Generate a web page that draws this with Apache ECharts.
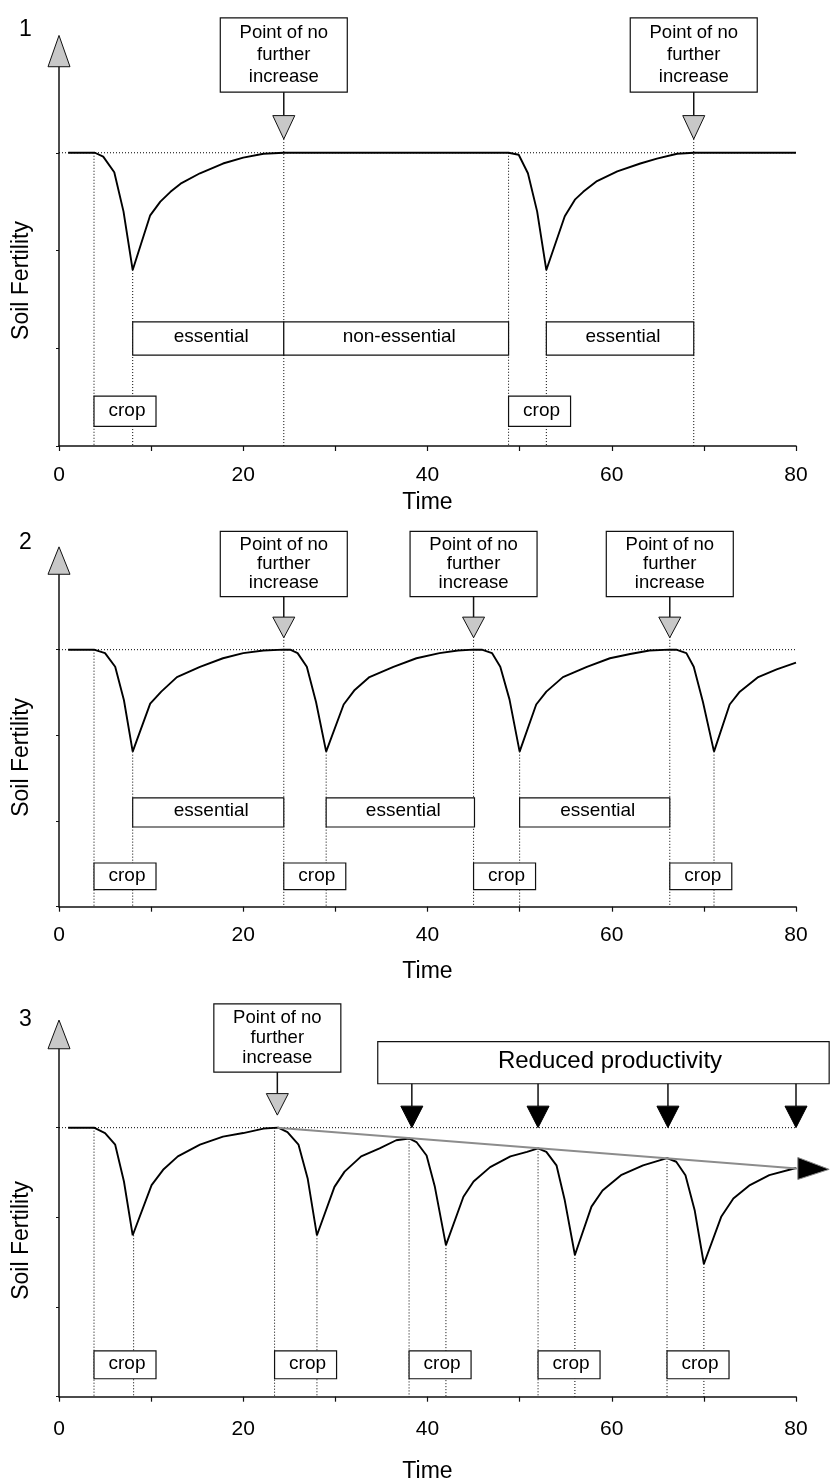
<!DOCTYPE html>
<html>
<head>
<meta charset="utf-8">
<script src="https://cdn.jsdelivr.net/npm/echarts@6/dist/echarts.min.js"></script>
<style>
  html, body { margin: 0; padding: 0; background: #fff; }
  #main { width: 833px; height: 1478px; }
</style>
</head>
<body>
<div id="main"></div>
<script>
// ---- data (time units on x, soil fertility on y) ----
var xLabels = [0, 20, 40, 60, 80];
var plateau = 3;

// panel 1: two crops separated by a non-essential fallow
var curve1 = [[1, 3], [3.9, 3], [4.8, 2.96], [6.0, 2.8], [7.0, 2.4], [8.0, 1.8], [9.9, 2.36], [11.0, 2.5],
  [12.1, 2.6], [13.3, 2.69], [15.3, 2.79], [17.8, 2.89], [20, 2.95], [22.2, 2.99], [24.4, 3], [48.8, 3],
  [49.9, 2.98], [50.9, 2.79], [51.9, 2.4], [52.9, 1.8], [54.9, 2.35], [56.0, 2.52], [56.9, 2.6], [58.4, 2.71],
  [60.6, 2.81], [63.1, 2.89], [64.9, 2.94], [67.1, 2.99], [68.9, 3], [80, 3]];
var guides1 = [[3.8, 3], [8.0, 1.8], [24.4, 3.14], [48.8, 3], [52.9, 1.8], [68.9, 3.14]];
var crops1 = [3.8, 48.8];
var pnfi1 = [24.4, 68.9];
var phaseSpans1 = [[8.0, 24.4], [24.4, 48.8], [52.9, 68.9]];
var phaseNames1 = ['essential', 'non-essential', 'essential'];

// panel 2: crops as soon as fertility stops rising
var curve2 = [[1, 3], [3.8, 3], [5.0, 2.96], [6.1, 2.8], [7.05, 2.41], [8.0, 1.81], [9.9, 2.37], [11.1, 2.51],
  [12.8, 2.68], [15.3, 2.8], [17.8, 2.9], [20, 2.96], [22.2, 2.99], [24.4, 3], [25.1, 3], [25.9, 2.96],
  [26.9, 2.8], [27.9, 2.39], [29.0, 1.81], [30.9, 2.36], [32.1, 2.53], [33.7, 2.68], [36.3, 2.8], [38.8, 2.9],
  [41.3, 2.96], [43.3, 2.99], [45.0, 3], [45.9, 3], [47.0, 2.96], [47.9, 2.8], [48.9, 2.42], [50.0, 1.81],
  [51.8, 2.36], [52.9, 2.51], [54.7, 2.68], [57.3, 2.8], [59.8, 2.9], [62.0, 2.95], [64.1, 2.99], [66.3, 3],
  [67.0, 3], [68.1, 2.96], [68.9, 2.8], [69.9, 2.39], [71.1, 1.81], [72.8, 2.36], [73.9, 2.51], [75.9, 2.68],
  [77.9, 2.77], [80, 2.85]];
var guides2 = [[3.8, 3], [8.0, 1.81], [24.4, 3.15], [29.0, 1.81], [45.0, 3.15], [50.0, 1.81], [66.3, 3.15], [71.1, 1.81]];
var crops2 = [3.8, 24.4, 45.0, 66.3];
var pnfi2 = [24.4, 45.0, 66.3];
var phaseSpans2 = [[8.0, 24.4], [29.0, 45.1], [50.0, 66.3]];
var phaseNames2 = ['essential', 'essential', 'essential'];

// panel 3: cropping before recovery is complete
var curve3 = [[1, 3], [3.8, 3], [5.0, 2.94], [6.1, 2.81], [7.05, 2.4], [8.0, 1.8], [10.05, 2.36], [11.3, 2.53],
  [12.9, 2.68], [15.3, 2.81], [17.8, 2.9], [20, 2.94], [22.2, 2.99], [23.8, 3], [24.8, 2.95], [26.0, 2.81],
  [27.0, 2.43], [28.0, 1.8], [29.9, 2.34], [31.0, 2.51], [32.8, 2.68], [34.8, 2.77], [36.6, 2.86], [38.0, 2.88],
  [38.8, 2.84], [39.9, 2.69], [40.8, 2.34], [42.0, 1.69], [43.9, 2.23], [45.0, 2.4], [46.8, 2.56], [49.0, 2.68],
  [50.8, 2.73], [52.0, 2.77], [52.9, 2.73], [54.0, 2.58], [54.9, 2.19], [56.0, 1.58], [57.8, 2.12], [59.0, 2.3],
  [61.0, 2.47], [63.4, 2.58], [66.0, 2.66], [67.0, 2.62], [68.0, 2.47], [69.0, 2.08], [70.0, 1.48], [71.9, 2.01],
  [73.2, 2.21], [75.0, 2.36], [77.1, 2.47], [80, 2.55]];
var guides3 = [[3.8, 3], [8.1, 1.8], [23.4, 3], [28.0, 1.8], [38.0, 2.88], [42.0, 1.69], [52.0, 2.77], [56.0, 1.58], [66.0, 2.66], [70.0, 1.48]];
var crops3 = [3.8, 23.4, 38.0, 52.0, 66.0];
var pnfi3 = [23.7];
var reducedArrows3 = [38.3, 52.0, 66.1, 80.0];
var reducedSpan3 = [[34.6, 83.6]];
var trend3 = [[23.7, 3.0], [80.2, 2.545]];
var trendTip3 = [[83.6, 2.535]];

// ---- layout / style ----
var FONT = 'Liberation Sans, Arial, Helvetica, sans-serif';
var L = {
  phaseTop: 1.27, phaseBottom: 0.93,
  cropTop: 0.51, cropBottom: 0.2, cropWidth: 62,
  calloutTop: 4.38, calloutBottom: 3.62, headTop: 3.38, headTip: 3.14, calloutWidth: 127,
  reducedTop: 3.96, reducedBottom: 3.49, blackHeadTop: 3.24, blackHeadTip: 3.0,
  axisHeadBase: 3.88, axisHeadTip: 4.2
};
var grids = [
  { left: 59, width: 737, top: 55, height: 391, outerBoundsMode: 'none' },
  { left: 59, width: 737, top: 564, height: 342.7, outerBoundsMode: 'none' },
  { left: 59, width: 737, top: 1038, height: 358.7, outerBoundsMode: 'none' }
];
var nameGaps = [45, 53, 63];
var labelMargins = [19, 18, 22];
var yNamePad = [60, 44, 46];
var numberTops = [13, 526, 1003];

var boxStyle = { fill: '#fff', stroke: '#111', lineWidth: 1.2 };

function txt(text, x, y, size, extra) {
  var s = { text: text, x: x, y: y, align: 'center', verticalAlign: 'middle', fontSize: size, fontFamily: FONT, fill: '#000' };
  for (var k in extra) s[k] = extra[k];
  return { type: 'text', style: s };
}

function customOn(i, data, z, render) {
  return { type: 'custom', xAxisIndex: i, yAxisIndex: i, clip: false, silent: true, z: z, data: data, renderItem: render };
}

function buildPanel(i, p) {
  var list = [];
  // dotted guides down to the time axis
  list.push(customOn(i, p.guides, 1, function (params, api) {
    var a = api.coord([api.value(0), api.value(1)]);
    var b = api.coord([api.value(0), 0]);
    return { type: 'line', shape: { x1: a[0], y1: a[1], x2: b[0], y2: b[1] }, style: { stroke: '#000', lineWidth: 1, lineDash: [1, 2] } };
  }));
  // dotted plateau
  list.push({
    type: 'line', xAxisIndex: i, yAxisIndex: i, clip: false, silent: true, symbol: 'none', z: 1,
    data: [[0, plateau], [p.plateauEnd, plateau]],
    lineStyle: { color: '#000', width: 1, type: [1, 2] }
  });
  // soil fertility curve
  list.push({
    type: 'line', xAxisIndex: i, yAxisIndex: i, symbol: 'none', z: 3, silent: true,
    data: p.curve, lineStyle: { color: '#000', width: 1.9 }
  });
  // phase boxes
  if (p.spans) {
    list.push(customOn(i, p.spans, 4, function (params, api) {
      var a = api.coord([api.value(0), L.phaseTop]);
      var b = api.coord([api.value(1), L.phaseBottom]);
      return { type: 'group', children: [
        { type: 'rect', shape: { x: a[0], y: a[1], width: b[0] - a[0], height: b[1] - a[1] }, style: boxStyle },
        txt(p.names[params.dataIndex], (a[0] + b[0]) / 2 + 3, (a[1] + b[1]) / 2 - 2, 19)
      ] };
    }));
  }
  // crop boxes
  list.push(customOn(i, p.crops.map(function (x) { return [x]; }), 4, function (params, api) {
    var a = api.coord([api.value(0), L.cropTop]);
    var b = api.coord([api.value(0), L.cropBottom]);
    return { type: 'group', children: [
      { type: 'rect', shape: { x: a[0], y: a[1], width: L.cropWidth, height: b[1] - a[1] }, style: boxStyle },
      txt('crop', a[0] + L.cropWidth / 2 + 2, (a[1] + b[1]) / 2 - 1, 19)
    ] };
  }));
  // "point of no further increase" callouts
  list.push(customOn(i, p.pnfi.map(function (x) { return [x]; }), 4, function (params, api) {
    var x = api.value(0);
    var unit = api.coord([0, 0])[1] - api.coord([0, 1])[1];
    var a = api.coord([x, L.calloutTop]);
    var b = api.coord([x, L.calloutBottom]);
    var h = api.coord([x, L.headTop]);
    var t = api.coord([x, L.headTip]);
    var w = L.calloutWidth;
    return { type: 'group', children: [
      { type: 'rect', shape: { x: a[0] - w / 2, y: a[1], width: w, height: b[1] - a[1] }, style: boxStyle },
      txt('Point of no\nfurther\nincrease', a[0], (a[1] + b[1]) / 2, 18.5, { lineHeight: unit * 0.225 }),
      { type: 'line', shape: { x1: b[0], y1: b[1], x2: h[0], y2: h[1] }, style: { stroke: '#111', lineWidth: 1.5 } },
      { type: 'polygon', shape: { points: [[h[0] - 11, h[1]], [h[0] + 11, h[1]], [t[0], t[1]]] }, style: { fill: '#c8c8c8', stroke: '#111', lineWidth: 1 } }
    ] };
  }));
  // gray arrow head on the fertility axis
  list.push(customOn(i, [[0, L.axisHeadBase]], 5, function (params, api) {
    var b = api.coord([0, L.axisHeadBase]);
    var t = api.coord([0, L.axisHeadTip]);
    return { type: 'polygon', shape: { points: [[b[0] - 11, b[1]], [b[0] + 11, b[1]], [t[0], t[1]]] }, style: { fill: '#c8c8c8', stroke: '#111', lineWidth: 1 } };
  }));
  return list;
}

var panels = [
  { curve: curve1, guides: guides1, crops: crops1, pnfi: pnfi1, spans: phaseSpans1, names: phaseNames1, plateauEnd: 80 },
  { curve: curve2, guides: guides2, crops: crops2, pnfi: pnfi2, spans: phaseSpans2, names: phaseNames2, plateauEnd: 80 },
  { curve: curve3, guides: guides3, crops: crops3, pnfi: pnfi3, plateauEnd: 84 }
];

var series = [];
panels.forEach(function (p, i) { series = series.concat(buildPanel(i, p)); });

// panel 3 extras: declining trend and reduced productivity callout
series.push({
  type: 'line', xAxisIndex: 2, yAxisIndex: 2, clip: false, silent: true, symbol: 'none', z: 3,
  data: trend3, lineStyle: { color: '#8c8c8c', width: 2 }
});
series.push(customOn(2, trendTip3, 5, function (params, api) {
  var t = api.coord([api.value(0), api.value(1)]);
  var b = api.coord(trend3[1]);
  return { type: 'polygon', shape: { points: [[b[0], b[1] - 11], [b[0], b[1] + 11], [t[0], t[1]]] }, style: { fill: '#000', stroke: '#888', lineWidth: 1 } };
}));
series.push(customOn(2, reducedSpan3, 4, function (params, api) {
  var a = api.coord([api.value(0), L.reducedTop]);
  var b = api.coord([api.value(1), L.reducedBottom]);
  return { type: 'group', children: [
    { type: 'rect', shape: { x: a[0], y: a[1], width: b[0] - a[0], height: b[1] - a[1] }, style: boxStyle },
    txt('Reduced productivity', 610, (a[1] + b[1]) / 2 - 1, 24)
  ] };
}));
series.push(customOn(2, reducedArrows3.map(function (x) { return [x]; }), 4, function (params, api) {
  var x = api.value(0);
  var a = api.coord([x, L.reducedBottom]);
  var h = api.coord([x, L.blackHeadTop]);
  var t = api.coord([x, L.blackHeadTip]);
  return { type: 'group', children: [
    { type: 'line', shape: { x1: a[0], y1: a[1], x2: h[0], y2: h[1] }, style: { stroke: '#111', lineWidth: 1.5 } },
    { type: 'polygon', shape: { points: [[h[0] - 11, h[1]], [h[0] + 11, h[1]], [t[0], t[1]]] }, style: { fill: '#000', stroke: '#000', lineWidth: 1 } }
  ] };
}));

var option = {
  backgroundColor: '#fff',
  animation: false,
  title: ['1', '2', '3'].map(function (n, i) {
    return { text: n, left: 14, top: numberTops[i], textStyle: { fontSize: 23, fontWeight: 'normal', color: '#000', fontFamily: FONT } };
  }),
  grid: grids,
  xAxis: grids.map(function (g, i) {
    return {
      type: 'value', gridIndex: i, min: 0, max: 80, interval: 10,
      name: 'Time', nameLocation: 'middle', nameGap: nameGaps[i],
      nameTextStyle: { fontSize: 23, color: '#000', fontFamily: FONT },
      axisLine: { lineStyle: { color: '#111', width: 1.5 } },
      axisTick: { length: 5, lineStyle: { color: '#111', width: 1.2 } },
      axisLabel: {
        margin: labelMargins[i], fontSize: 21, color: '#000', fontFamily: FONT,
        formatter: function (v) { return xLabels.indexOf(v) >= 0 ? String(v) : ''; }
      },
      splitLine: { show: false }
    };
  }),
  yAxis: grids.map(function (g, i) {
    return {
      type: 'value', gridIndex: i, min: 0, max: 4, interval: 1,
      name: 'Soil Fertility', nameLocation: 'middle', nameGap: 26,
      nameTextStyle: { fontSize: 23, color: '#000', fontFamily: FONT, padding: [0, yNamePad[i], 0, 0] },
      axisLine: { show: true, lineStyle: { color: '#111', width: 1.5 } },
      axisTick: { show: true, length: 3, lineStyle: { color: '#111', width: 1 } },
      axisLabel: { show: false },
      splitLine: { show: false }
    };
  }),
  series: series
};

var chart = echarts.init(document.getElementById('main'));
chart.setOption(option);
</script>
</body>
</html>
